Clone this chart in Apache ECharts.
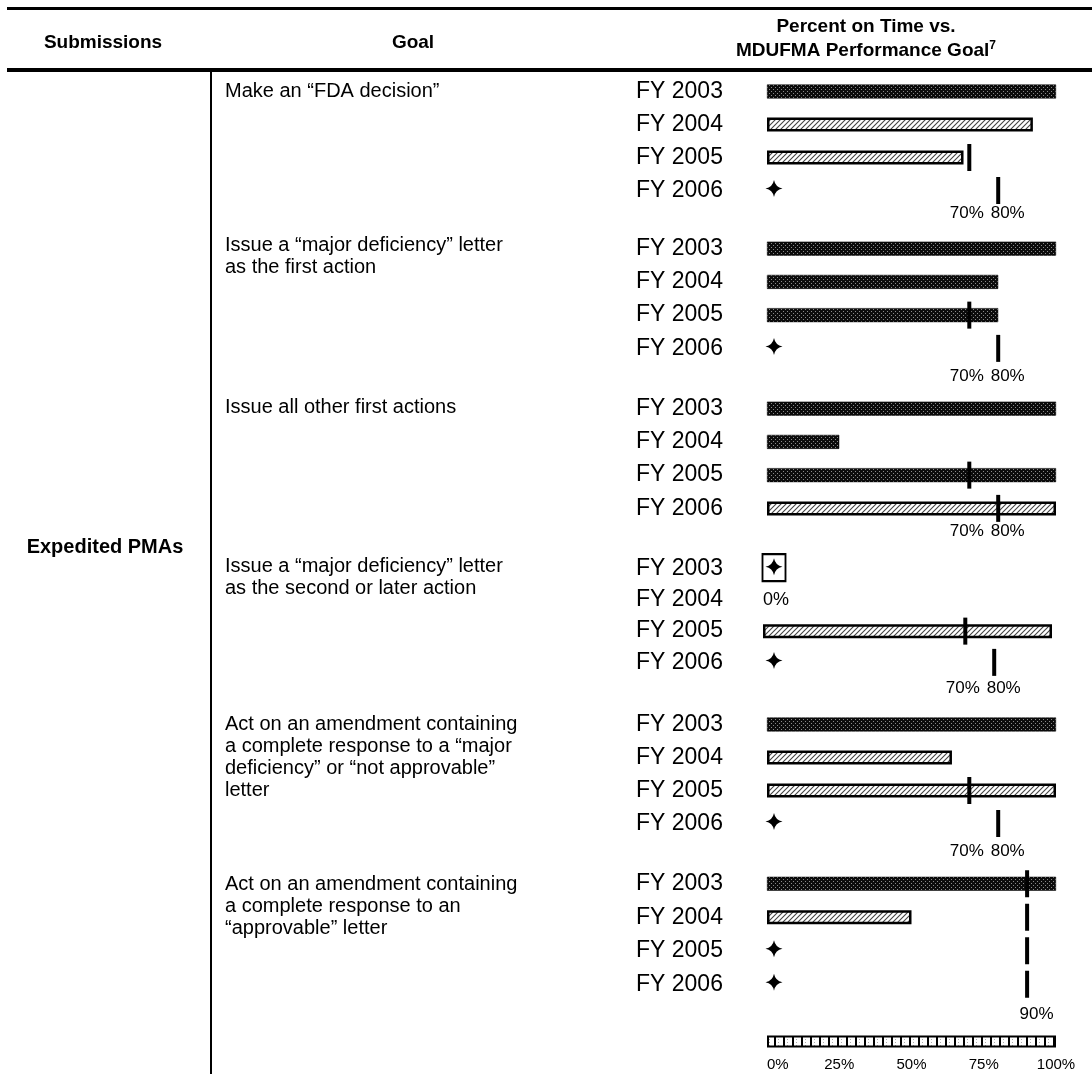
<!DOCTYPE html>
<html>
<head>
<meta charset="utf-8">
<title>Expedited PMAs - Percent on Time vs. MDUFMA Performance Goal</title>
<script src="https://cdn.jsdelivr.net/npm/echarts@6.0.0/dist/echarts.min.js"></script>
<style>
  html, body { margin: 0; padding: 0; background: #fff; }
  #chart { width: 1092px; height: 1074px; }
</style>
</head>
<body>
<div id="chart"></div>
<script>
// values
var fiscalYears = ['FY 2003', 'FY 2004', 'FY 2005', 'FY 2006'];
var submissionType = 'Expedited PMAs';
var goalTexts = [
  'Make an \u201cFDA decision\u201d',
  'Issue a \u201cmajor deficiency\u201d letter\nas the first action',
  'Issue all other first actions',
  'Issue a \u201cmajor deficiency\u201d letter\nas the second or later action',
  'Act on an amendment containing\na complete response to a \u201cmajor\ndeficiency\u201d or \u201cnot approvable\u201d\nletter',
  'Act on an amendment containing\na complete response to an\n\u201capprovable\u201d letter'
];
// percent on time, FY 2003..FY 2006 for each goal
var pctOnTime = [
  [100, 92, 68, null],
  [100, 80, 80, null],
  [100, 25, 100, 100],
  [null, 0, 100, null],
  [100, 64, 100, null],
  [100, 50, null, null]
];
// final = solid bar, pending = hatched bar, open = star, none = boxed star
var cohortStatus = [
  ['final', 'pending', 'pending', 'open'],
  ['final', 'final', 'final', 'open'],
  ['final', 'final', 'final', 'pending'],
  ['none', 'final', 'pending', 'open'],
  ['final', 'pending', 'pending', 'open'],
  ['final', 'pending', 'open', 'open']
];
// MDUFMA goal that applies to each fiscal year
var performanceGoal = [
  [null, null, 70, 80],
  [null, null, 70, 80],
  [null, null, 70, 80],
  [null, null, 70, 80],
  [null, null, 70, 80],
  [90, 90, 90, 90]
];
var axisTicks = [0, 25, 50, 75, 100];

// layout of each block (pixels)
var blocks = [
  {top: 75, height: 132, left: 767, labelMargin: -2, textY: 80},
  {top: 232, height: 133, left: 767, labelMargin: 3, textY: 234},
  {top: 392, height: 133, left: 767, labelMargin: -2, textY: 396},
  {top: 553, height: 125, left: 763, labelMargin: 2, textY: 555},
  {top: 708, height: 132, left: 767, labelMargin: 3, textY: 713},
  {top: 867, height: 134, left: 767, labelMargin: 5, textY: 873}
];
var FONT = '"Liberation Sans", Arial, sans-serif';
var STAR = 'path://M50,0 Q58,42 100,50 Q58,58 50,100 Q42,58 0,50 Q42,42 50,0 Z';
var STAR_X = 774;

function pattern(w, h, draw) {
  var c = document.createElement('canvas');
  c.width = w; c.height = h;
  draw(c.getContext('2d'));
  return {image: c, repeat: 'repeat'};
}
var darkFill = pattern(4, 4, function(ctx) {
  ctx.fillStyle = '#0c0c0c'; ctx.fillRect(0, 0, 4, 4);
  ctx.fillStyle = '#8a8a8a'; ctx.fillRect(1, 1, 1, 1); ctx.fillRect(3, 3, 1, 1);
});
var hatchFill = pattern(5, 5, function(ctx) {
  ctx.fillStyle = '#fff'; ctx.fillRect(0, 0, 5, 5);
  ctx.strokeStyle = '#444'; ctx.lineWidth = 1.1;
  ctx.beginPath();
  ctx.moveTo(0, 5); ctx.lineTo(5, 0);
  ctx.moveTo(-1, 1); ctx.lineTo(1, -1);
  ctx.moveTo(4, 6); ctx.lineTo(6, 4);
  ctx.stroke();
});
var rulerFill = pattern(9, 12, function(ctx) {
  ctx.fillStyle = '#fff'; ctx.fillRect(0, 0, 9, 12);
  ctx.fillStyle = '#aaa';
  for (var y = 1; y < 12; y += 3) { ctx.fillRect(4, y, 1, 1); }
  ctx.fillStyle = '#000'; ctx.fillRect(0, 0, 2, 12);
});
var barStyle = {
  final: {color: darkFill, borderColor: '#000', borderWidth: 0.5},
  pending: {color: hatchFill, borderColor: '#000', borderWidth: 2.5}
};

var grids = [], xAxes = [], yAxes = [], series = [], graphics = [];

blocks.forEach(function(b, g) {
  var goals = [];
  performanceGoal[g].forEach(function(v) { if (v != null && goals.indexOf(v) < 0) goals.push(v); });
  grids.push({left: b.left, top: b.top, width: 289, height: b.height});
  xAxes.push({
    gridIndex: g, type: 'value', min: 0, max: 100, interval: 10,
    axisLine: {show: false}, axisTick: {show: false}, splitLine: {show: false},
    axisLabel: {
      margin: b.labelMargin,
      formatter: function(v) {
        var i = goals.indexOf(v);
        if (i < 0) return '';
        return (i === goals.length - 1 ? '{r|' : '{c|') + v + '%}';
      },
      rich: {
        c: {fontSize: 17, fontFamily: FONT, color: '#000', padding: [0, 5, 0, 0]},
        r: {fontSize: 17, fontFamily: FONT, color: '#000', padding: [0, 0, 0, 19]}
      }
    }
  });
  yAxes.push({
    gridIndex: g, type: 'category', inverse: true, data: fiscalYears,
    axisLine: {show: false}, axisTick: {show: false},
    axisLabel: {align: 'left', margin: b.left - 636, fontSize: 23, fontFamily: FONT, color: '#000'}
  });

  var barData = [], stars = [], boxes = [], zeros = [], marks = [];
  pctOnTime[g].forEach(function(v, i) {
    var st = cohortStatus[g][i];
    if ((st === 'final' || st === 'pending') && v > 0) {
      barData.push({value: v, itemStyle: barStyle[st]});
    } else {
      barData.push('-');
    }
    if (st === 'open' || st === 'none') stars.push([0, fiscalYears[i]]);
    if (st === 'none') boxes.push([0, fiscalYears[i]]);
    if (v === 0) zeros.push([v, fiscalYears[i]]);
    if (performanceGoal[g][i] != null) marks.push([performanceGoal[g][i], fiscalYears[i]]);
  });

  series.push({
    type: 'bar', xAxisIndex: g, yAxisIndex: g, data: barData, barWidth: 14, z: 2
  });
  series.push({
    type: 'scatter', xAxisIndex: g, yAxisIndex: g, data: boxes, symbol: 'rect',
    symbolSize: [23, 27], symbolOffset: [STAR_X - b.left, -1],
    itemStyle: {color: '#fff', borderColor: '#000', borderWidth: 2, opacity: 1}, z: 3
  });
  series.push({
    type: 'scatter', xAxisIndex: g, yAxisIndex: g, data: stars, symbol: STAR,
    symbolSize: 17, symbolOffset: [STAR_X - b.left, -2],
    itemStyle: {color: '#000', opacity: 1}, z: 4
  });
  series.push({
    type: 'scatter', xAxisIndex: g, yAxisIndex: g, data: zeros, symbolSize: 0,
    itemStyle: {opacity: 1},
    label: {show: true, position: 'right', distance: 0, fontSize: 18, fontFamily: FONT, color: '#000',
      formatter: function(p) { return p.value[0] + '%'; }}
  });
  series.push({
    type: 'scatter', xAxisIndex: g, yAxisIndex: g, data: marks, symbol: 'rect',
    symbolSize: [4, 27], itemStyle: {color: '#000', opacity: 1}, z: 5
  });

  graphics.push({
    type: 'text', x: 225, y: b.textY,
    style: {text: goalTexts[g], fontSize: 20, lineHeight: 22, fontFamily: FONT, fill: '#000',
      align: 'left', verticalAlign: 'top'}
  });
});

// scale bar at the bottom
var s = blocks.length;
grids.push({left: 767, top: 1036, width: 289, height: 11});
xAxes.push({
  gridIndex: s, type: 'value', min: axisTicks[0], max: axisTicks[axisTicks.length - 1],
  interval: axisTicks[1] - axisTicks[0],
  axisLine: {show: false}, axisTick: {show: false}, splitLine: {show: false},
  axisLabel: {margin: 10, fontSize: 15, fontFamily: FONT, color: '#000', formatter: '{value}%',
    alignMinLabel: 'left'}
});
yAxes.push({gridIndex: s, type: 'category', data: ['scale'], show: false});
series.push({
  type: 'bar', xAxisIndex: s, yAxisIndex: s, data: [axisTicks[axisTicks.length - 1]], barWidth: 12,
  itemStyle: {color: rulerFill, borderColor: '#000', borderWidth: 2}
});

// table frame and header
graphics.push(
  {type: 'rect', shape: {x: 7, y: 7, width: 1085, height: 3}, style: {fill: '#000'}},
  {type: 'rect', shape: {x: 7, y: 68, width: 1085, height: 4}, style: {fill: '#000'}},
  {type: 'rect', shape: {x: 210, y: 72, width: 2, height: 1002}, style: {fill: '#000'}},
  {type: 'text', x: 103, y: 43, style: {text: 'Submissions', fontSize: 19, fontWeight: 'bold',
    fontFamily: FONT, fill: '#000', align: 'center', verticalAlign: 'middle'}},
  {type: 'text', x: 413, y: 43, style: {text: 'Goal', fontSize: 19, fontWeight: 'bold',
    fontFamily: FONT, fill: '#000', align: 'center', verticalAlign: 'middle'}},
  {type: 'text', x: 866, y: 27, style: {text: 'Percent on Time vs.', fontSize: 19, fontWeight: 'bold',
    fontFamily: FONT, fill: '#000', align: 'center', verticalAlign: 'middle'}},
  {type: 'text', x: 866, y: 51, style: {text: '{m|MDUFMA Performance Goal}{s|7}', align: 'center',
    verticalAlign: 'middle', rich: {
      m: {fontSize: 19, fontWeight: 'bold', fontFamily: FONT, fill: '#000', lineHeight: 22},
      s: {fontSize: 12, fontWeight: 'bold', fontFamily: FONT, fill: '#000', verticalAlign: 'top', lineHeight: 22}
    }}},
  {type: 'text', x: 105, y: 547, style: {text: submissionType, fontSize: 20, fontWeight: 'bold',
    fontFamily: FONT, fill: '#000', align: 'center', verticalAlign: 'middle'}}
);

var chart = echarts.init(document.getElementById('chart'));
chart.setOption({
  animation: false,
  backgroundColor: '#fff',
  grid: grids,
  xAxis: xAxes,
  yAxis: yAxes,
  series: series,
  graphic: graphics
});
</script>
</body>
</html>
